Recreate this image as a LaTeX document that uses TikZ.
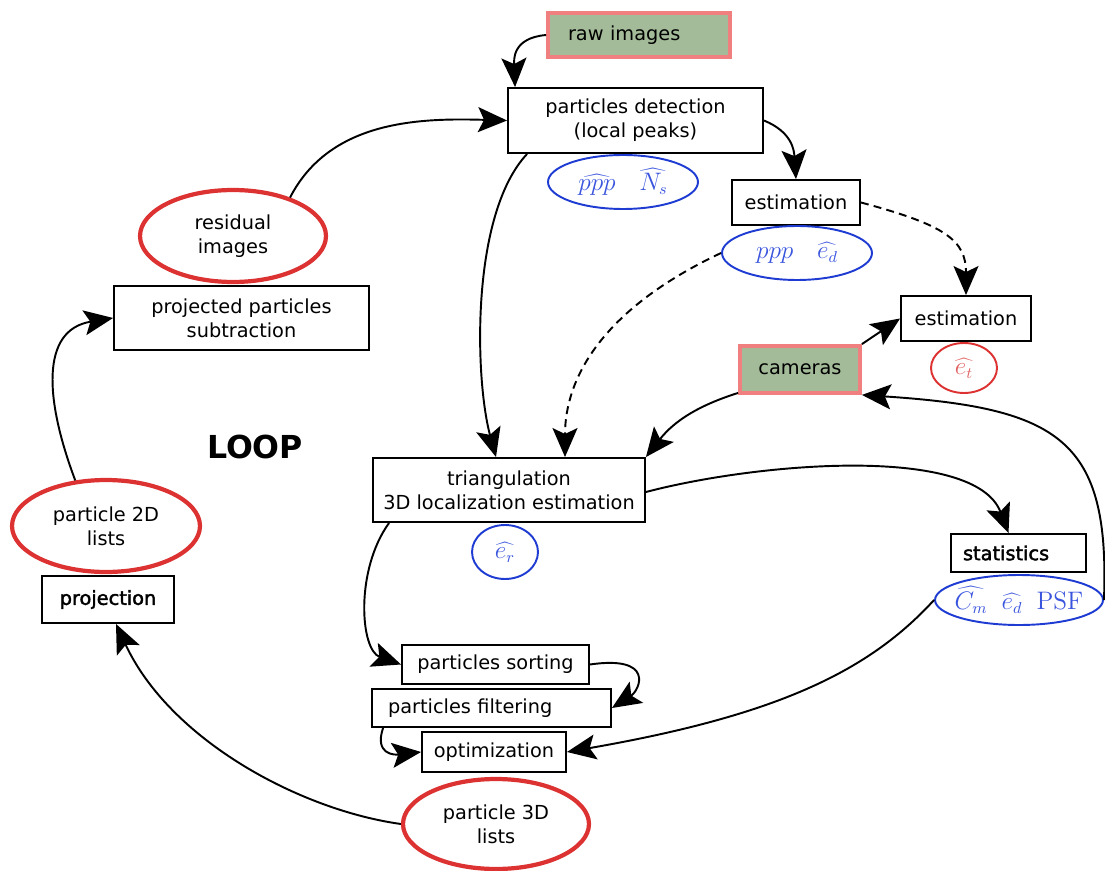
\documentclass[tikz,border=0pt]{standalone}
\usepackage[no-math]{fontspec}
\setmainfont{DejaVu Sans}
\newfontfamily\boldish[FakeBold=2]{DejaVu Sans}
\usetikzlibrary{shapes.geometric,arrows.meta}
\definecolor{leaf}{HTML}{A3BB98}
\definecolor{pinkline}{HTML}{F08080}
\definecolor{redline}{HTML}{DC3232}
\definecolor{redtext}{HTML}{E06060}
\definecolor{blueline}{HTML}{1E3CD2}
\definecolor{bluetext}{HTML}{3A55DD}

\begin{document}
\begin{tikzpicture}[x=0.02cm, y=-0.02cm, font=\fontsize{11}{13.6}\selectfont,
  box/.style={draw, line width=1.1pt, inner sep=0pt, align=center},
  src/.style={draw=pinkline, fill=leaf, line width=2.2pt, inner sep=0pt},
  lst/.style={ellipse, draw=redline, line width=2.4pt, inner sep=0pt, align=center},
  est/.style={ellipse, draw=blueline, line width=1.1pt, inner sep=0pt, text=bluetext, font=\fontsize{13.5}{15}\selectfont},
  flow/.style={line width=1.1pt, -{Stealth[length=5.8mm,width=5mm,inset=1.2mm]}},
  guess/.style={dash pattern=on 4.5pt off 3pt}]
  \useasboundingbox (0,0) rectangle (1105,871);
  % inputs
  \node[src, minimum width=3.64cm, minimum height=0.88cm, text width=2.84cm, align=left] (raw) at (639,35) {raw images};
  \node[src, minimum width=2.40cm, minimum height=0.94cm] (cam) at (800,369.5) {cameras};
  % boxes
  \node[box, minimum width=5.10cm, minimum height=1.30cm] (det) at (635.5,120.5) {particles detection\\(local peaks)};
  \node[box, minimum width=2.56cm, minimum height=0.90cm] (estA) at (796,202.5) {estimation};
  \node[box, minimum width=2.60cm, minimum height=0.90cm] (estB) at (966,318.5) {estimation};
  \node[box, minimum width=5.10cm, minimum height=1.28cm] (sub) at (241.5,318) {projected particles\\subtraction};
  \node[box, minimum width=2.64cm, minimum height=0.94cm, font=\fontsize{11}{13.6}\boldish] (proj) at (108,599.5) {projection};
  \node[box, minimum width=5.44cm, minimum height=1.28cm] (tri) at (509,490) {triangulation\\3D localization estimation};
  \node[box, minimum width=2.70cm, minimum height=0.76cm, text width=2.22cm, align=left, font=\fontsize{11}{13.6}\boldish] (stat) at (1018.5,553) {statistics};
  \node[box, minimum width=3.74cm, minimum height=0.78cm] (sort) at (495.5,664.5) {particles sorting};
  \node[box, minimum width=4.78cm, minimum height=0.76cm, text width=4.14cm, align=left] (filt) at (491.5,708) {particles filtering};
  \node[box, minimum width=2.88cm, minimum height=0.80cm] (opt) at (494,752) {optimization};
  % lists
  \node[lst, minimum width=3.72cm, minimum height=1.84cm] (resid) at (233,236) {residual\\images};
  \node[lst, minimum width=3.76cm, minimum height=1.84cm] (listB) at (106,526) {particle 2D\\lists};
  \node[lst, minimum width=3.72cm, minimum height=1.80cm] (listC) at (496,824) {particle 3D\\lists};
  % estimates
  \node[est, minimum width=3.00cm, minimum height=1.08cm] (qA) at (623,182) {$\widehat{ppp}\quad\widehat{N_s}$};
  \node[est, minimum width=3.00cm, minimum height=1.08cm] (qB) at (797,253) {$ppp\quad\widehat{e_d}$};
  \node[est, draw=redline, text=redtext, minimum width=1.32cm, minimum height=1.00cm] (qT) at (964,368) {$\widehat{e_t}$};
  \node[est, minimum width=1.32cm, minimum height=1.08cm] (qR) at (505,552) {$\widehat{e_r}$};
  \node[est, inner sep=-6pt, minimum width=3.36cm, minimum height=1.00cm] (qS) at (1019,600) {$\widehat{C_m}\;\;\widehat{e_d}\;\;\mathrm{PSF}$};
  \node[font=\fontsize{18}{20}\selectfont\bfseries] (loop) at (255,447) {LOOP};
  % connectors
  \draw[flow] (raw.west) .. controls (512,38) and (514,60) .. ([xshift=0.16cm]det.north west);
  \draw[flow] (resid.34) .. controls (330,120) and (420,118) .. (det.west);
  \draw[flow] ([xshift=0.4cm]det.south west) .. controls (470,215) and (475,380) .. ([xshift=-0.26cm]tri.north);
  \draw[flow] (det.east) .. controls (792,132) and (794,150) .. (estA.north);
  \draw[flow, guess] (estA.east) .. controls (945,225) and (966,240) .. (estB.north);
  \draw[flow, guess] (qB.west) .. controls (600,310) and (565,380) .. ([xshift=1.12cm]tri.north);
  \draw[flow] (cam.north east) -- (estB.west);
  \draw[flow] ([yshift=0.04cm]cam.south west) .. controls (700,405) and (675,420) .. (tri.north east);
  \draw[flow] (qS.east) .. controls (1110,440) and (1060,408) .. (cam.south east);
  \draw[flow] ([yshift=-0.04cm]tri.east) .. controls (760,462) and (975,445) .. ([xshift=-0.2cm]stat.north);
  \draw[flow] ([xshift=0.34cm]tri.south west) .. controls (355,570) and (360,650) .. (sort.west);
  \draw[flow] (sort.east) .. controls (655,655) and (640,690) .. (filt.east);
  \draw[flow] ([xshift=0.24cm]filt.south west) .. controls (374,755) and (395,755) .. (opt.west);
  \draw[flow] (qS.west) .. controls (870,670) and (780,715) .. (opt.east);
  \draw[flow] (listC.west) .. controls (300,810) and (170,740) .. ([xshift=0.16cm]proj.south);
  \draw[flow] (listB.124) .. controls (45,400) and (40,330) .. (sub.west);
\end{tikzpicture}
\end{document}
